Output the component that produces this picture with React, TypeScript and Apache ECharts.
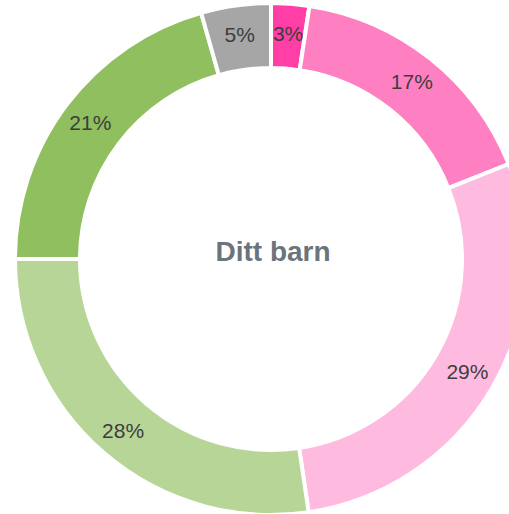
import React, { useEffect, useRef } from "react";
import * as echarts from "echarts";

const categories = ["A", "B", "C", "D", "E", "F"];
// share of each slice in percent
const values = [2.4, 16.55, 28.7, 27.35, 20.6, 4.4];
const colors = ["#ff3fa6", "#ff80c2", "#ffbadf", "#b6d597", "#8fbf5f", "#a6a6a6"];
const centerLabel = "Ditt barn";

export default function App() {
  const ref = useRef<HTMLDivElement>(null);
  useEffect(() => {
    if (!ref.current) return;
    const chart = echarts.init(ref.current, undefined, { renderer: "svg" });
    chart.setOption({
      animation: false,
      backgroundColor: "#ffffff",
      graphic: [
        {
          type: "text",
          x: 273,
          y: 251,
          style: {
            text: centerLabel,
            fontFamily: "Liberation Sans, Arial, sans-serif",
            fontSize: 28,
            fontWeight: "bold",
            fill: "#6b737b",
            textAlign: "center",
            textVerticalAlign: "middle",
          },
        },
      ],
      series: [
        {
          type: "pie",
          center: [271, 259],
          radius: [191, 256],
          startAngle: 90,
          clockwise: true,
          avoidLabelOverlap: false,
          itemStyle: { borderColor: "#ffffff", borderWidth: 4 },
          label: {
            show: true,
            position: "inside",
            formatter: (p: any) => Math.ceil(p.value) + "%",
            fontFamily: "Liberation Sans, Arial, sans-serif",
            fontSize: 21,
            color: "#3d3d3d",
            textBorderWidth: 0,
          },
          labelLine: { show: false },
          emphasis: { disabled: true },
          data: categories.map((c, i) => ({
            name: c,
            value: values[i],
            itemStyle: { color: colors[i] },
          })),
        },
      ],
    });
    return () => chart.dispose();
  }, []);
  return (
    <div
      ref={ref}
      style={{ position: "fixed", left: 0, top: 0, width: 509, height: 514 }}
    />
  );
}
